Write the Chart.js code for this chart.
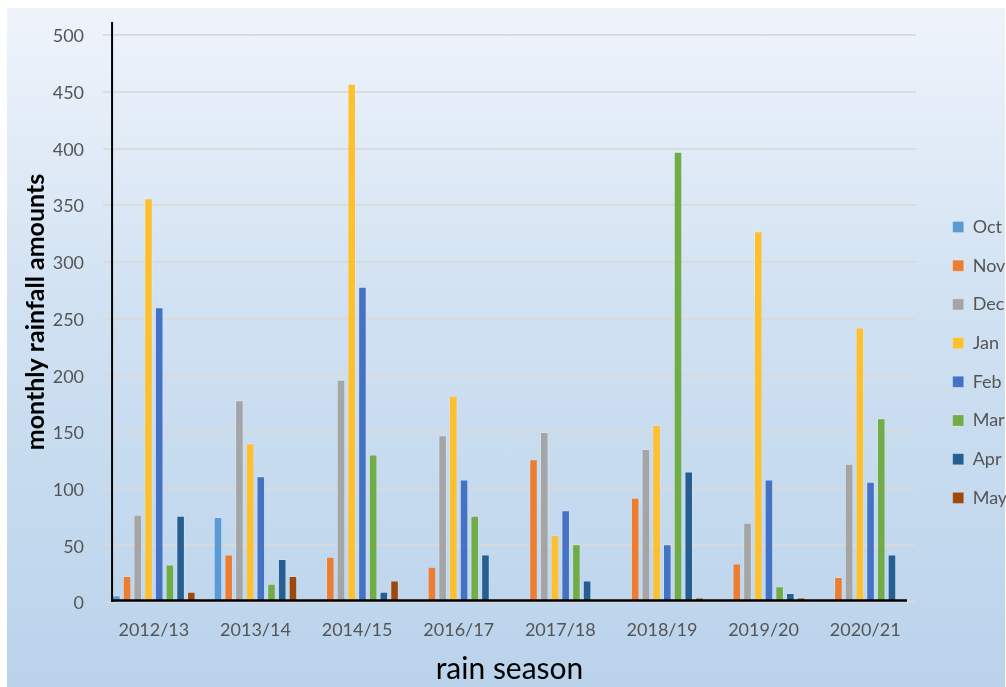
<!DOCTYPE html>
<html>
<head>
<meta charset="utf-8">
<script src="https://cdn.jsdelivr.net/npm/chart.js@4.4.1/dist/chart.umd.min.js"></script>
<style>
  html, body { margin: 0; padding: 0; background: #ffffff; }
  #wrap { position: relative; width: 1006px; height: 687px; overflow: hidden; }
  #bg { position: absolute; left: 7px; top: 8px; width: 998px; height: 679px;
        background: linear-gradient(to bottom, #eff4fb 0%, #d0e1f2 45%, #bad3eb 100%); }
  #c { position: absolute; left: 0; top: 0; }
</style>
</head>
<body>
<div id="wrap">
  <div id="bg"></div>
  <canvas id="c" width="1006" height="687"></canvas>
</div>
<script>
const seasons = ['2012/13', '2013/14', '2014/15', '2016/17', '2017/18', '2018/19', '2019/20', '2020/21'];
const months = ['Oct', 'Nov', 'Dec', 'Jan', 'Feb', 'Mar', 'Apr', 'May'];
const octValues = [6, 75, 0, 0, 0, 0, 0, 0];
const novValues = [23, 42, 40, 31, 126, 92, 34, 22];
const decValues = [77, 178, 196, 147, 150, 135, 70, 122];
const janValues = [356, 140, 457, 182, 59, 156, 327, 242];
const febValues = [260, 111, 278, 108, 81, 51, 108, 106];
const marValues = [33, 16, 130, 76, 51, 397, 14, 162];
const aprValues = [76, 38, 9, 42, 19, 115, 8, 42];
const mayValues = [9, 23, 19, 1, 1, 4, 4, 0];
const yTickStep = 50;
const yTop = 511.5;

const seriesValues = [octValues, novValues, decValues, janValues, febValues, marValues, aprValues, mayValues];
const colors = ['#5b9bd5', '#ed7d31', '#a5a5a5', '#ffc02e', '#4472c4', '#70ad47', '#255e91', '#9e480e'];

Chart.defaults.font.family = 'Lato, "Open Sans", sans-serif';

const axisLines = {
  id: 'axisLines',
  afterDatasetsDraw(chart) {
    const ctx = chart.ctx;
    const y = chart.scales.y;
    const first = chart.getDatasetMeta(0).data[0];
    const lastMeta = chart.getDatasetMeta(chart.data.datasets.length - 1);
    const last = lastMeta.data[lastMeta.data.length - 1];
    const x0 = first.x - first.width / 2;
    const x1 = last.x + last.width / 2;
    const y0 = y.getPixelForValue(0);
    ctx.save();
    ctx.strokeStyle = '#000000';
    ctx.lineWidth = 2;
    ctx.beginPath();
    ctx.moveTo(x0, chart.chartArea.top);
    ctx.lineTo(x0, y0);
    ctx.stroke();
    ctx.lineWidth = 2.5;
    ctx.beginPath();
    ctx.moveTo(x0 - 1, y0 - 1.5);
    ctx.lineTo(x1, y0 - 1.5);
    ctx.stroke();
    ctx.restore();
  }
};

new Chart(document.getElementById('c'), {
  type: 'bar',
  data: {
    labels: seasons,
    datasets: months.map((m, i) => ({
      label: m,
      data: seriesValues[i],
      backgroundColor: colors[i],
      borderColor: 'rgba(255,255,255,0.18)',
      borderWidth: 1,
      barPercentage: 0.8,
      categoryPercentage: 0.843
    }))
  },
  options: {
    responsive: false,
    devicePixelRatio: 1,
    animation: false,
    layout: { padding: { top: 22, left: 0, right: 0, bottom: 0 } },
    scales: {
      x: {
        grid: { display: true, color: 'transparent', drawTicks: true, tickLength: 19.6, tickColor: 'transparent' },
        border: { display: false },
        ticks: { color: '#555555', font: { size: 18, lineHeight: 1 }, padding: 0, maxRotation: 0 },
        title: { display: true, text: 'rain season', color: '#000000',
                 font: { size: 30, lineHeight: 1 }, padding: { top: 14.4, bottom: 3 } }
      },
      y: {
        min: 0,
        max: yTop,
        grid: { color: '#d9d9d9', lineWidth: 1.8, drawTicks: true, tickLength: 16, tickColor: 'transparent' },
        border: { display: false },
        ticks: { stepSize: yTickStep, includeBounds: false, color: '#555555',
                 font: { size: 18, lineHeight: 1 }, padding: 3, labelOffset: 1.5 },
        title: { display: true, text: 'monthly rainfall amounts', color: '#000000',
                 font: { size: 25, weight: 'bold', lineHeight: 1 }, padding: { top: 23.5, bottom: 1.2 } }
      },
      yR: {
        type: 'linear',
        position: 'right',
        display: true,
        grid: { display: false, drawTicks: false },
        border: { display: false },
        ticks: { display: false },
        afterFit(s) { s.width = 16; }
      }
    },
    plugins: {
      legend: {
        position: 'right',
        maxWidth: 74,
        title: { display: true, text: ' ', font: { size: 10, lineHeight: 1 }, padding: { top: 0, bottom: 5.9 } },
        labels: { boxWidth: 11, boxHeight: 11, padding: 20.7, color: '#555555', font: { size: 18 } }
      },
      tooltip: { enabled: false }
    }
  },
  plugins: [axisLines]
});
</script>
</body>
</html>
